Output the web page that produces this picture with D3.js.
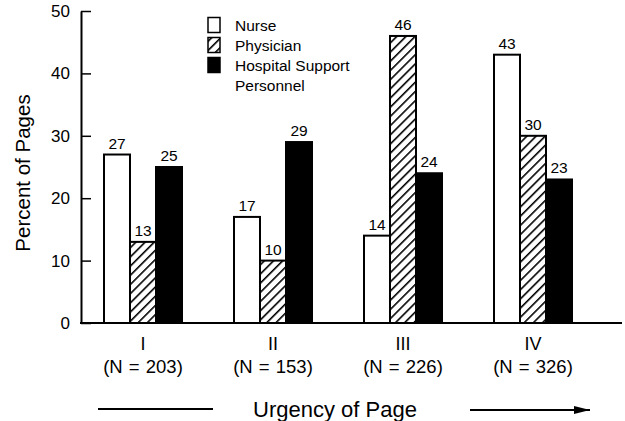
<!DOCTYPE html>
<html>
<head>
<meta charset="utf-8">
<script src="https://cdn.jsdelivr.net/npm/d3@7"></script>
<style>
  body { margin: 0; background: #fff; }
  svg { display: block; font-family: "Liberation Sans", Arial, Helvetica, sans-serif; }
</style>
</head>
<body>
<svg id="chart" width="625" height="421"></svg>
<script>
const groups = ["I", "II", "III", "IV"];
const groupN = ["(N = 203)", "(N = 153)", "(N = 226)", "(N = 326)"];
const series = ["Nurse", "Physician", "Hospital Support Personnel"];
const nurse = [27, 17, 14, 43];
const physician = [13, 10, 46, 30];
const support = [25, 29, 24, 23];
const yTicks = [0, 10, 20, 30, 40, 50];

const values = [nurse, physician, support];
const svg = d3.select("#chart");

const x0 = d3.scaleBand().domain(groups).range([78, 598]).paddingInner(0).paddingOuter(0);
const x1 = d3.scaleBand().domain(series).range([0, 78]);
const y = d3.scaleLinear().domain([0, 50]).range([323, 11]);
const axisX = 81;

const defs = svg.append("defs");
const pat = defs.append("pattern")
  .attr("id", "hatch").attr("patternUnits", "userSpaceOnUse")
  .attr("width", 6.5).attr("height", 6.5)
  .attr("patternTransform", "rotate(45)");
pat.append("rect").attr("width", 6.5).attr("height", 6.5).attr("fill", "#fff");
pat.append("line").attr("x1", 0).attr("y1", 0).attr("x2", 0).attr("y2", 6.5)
  .attr("stroke", "#000").attr("stroke-width", 3.2);

const fills = ["#fff", "url(#hatch)", "#000"];

// bars
groups.forEach((g, gi) => {
  const off = x0(g) + (x0.bandwidth() - 78) / 2;
  series.forEach((s, si) => {
    const v = values[si][gi];
    const bx = off + x1(s);
    svg.append("rect")
      .attr("x", bx).attr("y", y(v))
      .attr("width", x1.bandwidth()).attr("height", y(0) - y(v))
      .attr("fill", fills[si]).attr("stroke", "#000").attr("stroke-width", 2);
    svg.append("text")
      .attr("x", bx + x1.bandwidth() / 2).attr("y", y(v) - 6)
      .attr("text-anchor", "middle").attr("font-size", 15.5).attr("fill", "#000")
      .text(v);
  });
  svg.append("text").attr("x", x0(g) + x0.bandwidth() / 2).attr("y", 350)
    .attr("text-anchor", "middle").attr("font-size", 18).text(g);
  svg.append("text").attr("x", x0(g) + x0.bandwidth() / 2).attr("y", 373)
    .attr("text-anchor", "middle").attr("font-size", 18.5).attr("word-spacing", 1).text(groupN[gi]);
});

// y axis
const yAxis = d3.axisLeft(y).tickValues(yTicks).tickSizeInner(-10).tickSizeOuter(0).tickPadding(11);
const ga = svg.append("g").attr("transform", `translate(${axisX},0)`).call(yAxis);
ga.select(".domain").attr("stroke-width", 2);
ga.selectAll(".tick line").attr("stroke-width", 1.5);
ga.selectAll(".tick text").attr("font-size", 17).attr("fill", "#000")
  .attr("font-family", "Liberation Sans, Arial, sans-serif");

// x axis line
svg.append("line").attr("x1", axisX - 1).attr("x2", 622).attr("y1", y(0)).attr("y2", y(0))
  .attr("stroke", "#000").attr("stroke-width", 2);

// y title
svg.append("text").attr("transform", `translate(30,173) rotate(-90)`)
  .attr("text-anchor", "middle").attr("font-size", 20.5).text("Percent of Pages");

// legend
const lg = svg.append("g");
const legendLabels = [["Nurse"], ["Physician"], ["Hospital Support", "Personnel"]];
series.forEach((s, i) => {
  const cy = 25 + i * 20;
  lg.append("rect").attr("x", 208).attr("y", cy - 7.5).attr("width", 12).attr("height", 15)
    .attr("fill", fills[i]).attr("stroke", "#000").attr("stroke-width", 1.5);
  legendLabels[i].forEach((t, j) => {
    lg.append("text").attr("x", 235).attr("y", cy + 5.5 + j * 20)
      .attr("font-size", 15.5).text(t);
  });
});

// bottom title with arrow
defs.append("marker").attr("id", "arrow").attr("viewBox", "0 0 16 8")
  .attr("refX", 16).attr("refY", 4).attr("markerWidth", 17).attr("markerHeight", 8)
  .attr("orient", "auto").attr("markerUnits", "userSpaceOnUse")
  .append("path").attr("d", "M0,0 L16,4 L0,8 Z").attr("fill", "#000");
svg.append("line").attr("x1", 98).attr("x2", 213).attr("y1", 409).attr("y2", 409)
  .attr("stroke", "#000").attr("stroke-width", 2);
svg.append("line").attr("x1", 470).attr("x2", 590).attr("y1", 410).attr("y2", 410)
  .attr("stroke", "#000").attr("stroke-width", 2.2).attr("marker-end", "url(#arrow)");
svg.append("text").attr("x", 335).attr("y", 417).attr("text-anchor", "middle")
  .attr("font-size", 22).text("Urgency of Page");
</script>
</body>
</html>
